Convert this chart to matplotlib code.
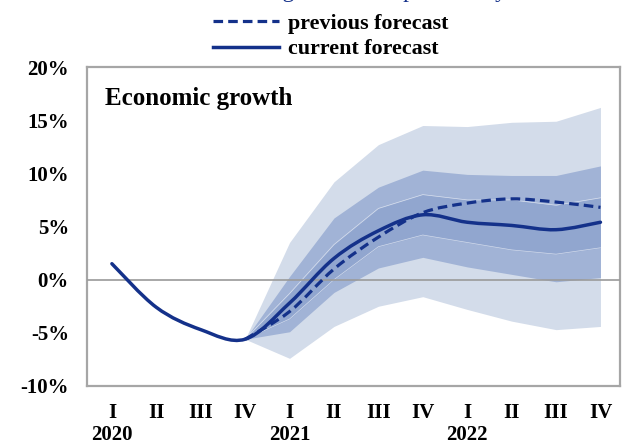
import numpy as np
import matplotlib
matplotlib.use("Agg")
import matplotlib.pyplot as plt
import matplotlib.transforms as mtransforms
from matplotlib.path import Path
from matplotlib.patches import PathPatch

# ---- data -------------------------------------------------------------
quarters = ["I", "II", "III", "IV", "I", "II", "III", "IV", "I", "II", "III", "IV"]
year_pos = [0, 4, 8]
year_labels = ["2020", "2021", "2022"]

current = [1.5, -2.6, -4.7, -5.6, -2.2, 2.0, 4.6, 6.1, 5.4, 5.1, 4.7, 5.4]
previous = [-5.6, -3.0, 1.0, 4.0, 6.3, 7.2, 7.6, 7.3, 6.8]  # from IV 2020 on
fan_start = 3

outer_hi = [-5.6, 3.5, 9.2, 12.7, 14.5, 14.4, 14.8, 14.9, 16.2]
mid_hi = [-5.6, 0.3, 5.8, 8.7, 10.3, 9.9, 9.8, 9.8, 10.7]
inner_hi = [-5.6, -1.3, 3.3, 6.7, 8.0, 7.5, 7.5, 7.0, 7.7]
inner_lo = [-5.6, -3.7, 0.0, 3.1, 4.2, 3.5, 2.8, 2.4, 3.0]
mid_lo = [-5.6, -4.9, -1.2, 1.1, 2.1, 1.2, 0.5, -0.2, 0.2]
outer_lo = [-5.6, -7.4, -4.4, -2.5, -1.6, -2.8, -3.9, -4.7, -4.4]

yticks = [-10, -5, 0, 5, 10, 15, 20]

# ---- style ------------------------------------------------------------
plt.rcParams["font.family"] = ["Liberation Serif", "DejaVu Serif"]
plt.rcParams["font.weight"] = "bold"

navy = "#14318a"
c_outer = "#d3dcea"
c_mid = "#a1b3d6"
c_inner = "#91a6cf"
frame = "#a6a6a6"


def smooth_path(x, y):
    """Cubic Bezier path through the points (Catmull-Rom style tangents)."""
    x = np.asarray(x, float)
    y = np.asarray(y, float)
    verts = [(x[0], y[0])]
    codes = [Path.MOVETO]
    n = len(x)
    for i in range(n - 1):
        p0 = np.array([x[max(i - 1, 0)], y[max(i - 1, 0)]])
        p1 = np.array([x[i], y[i]])
        p2 = np.array([x[i + 1], y[i + 1]])
        p3 = np.array([x[min(i + 2, n - 1)], y[min(i + 2, n - 1)]])
        c1 = p1 + (p2 - p0) / 6.0
        c2 = p2 - (p3 - p1) / 6.0
        verts += [tuple(c1), tuple(c2), tuple(p2)]
        codes += [Path.CURVE4] * 3
    return Path(verts, codes)


fig = plt.figure(figsize=(6.22, 4.45), dpi=100)
ax = fig.add_axes([0.1399, 0.1326, 0.8569, 0.7168])

xf = np.arange(fan_start, fan_start + len(outer_hi))

# fan bands
ax.fill_between(xf, outer_lo, outer_hi, color=c_outer, lw=0, zorder=1)
ax.fill_between(xf, mid_lo, mid_hi, color=c_mid, lw=0, zorder=2)
ax.fill_between(xf, inner_lo, inner_hi, color=c_inner, lw=0, zorder=3)
ax.plot(xf, inner_hi, color="white", lw=0.5, alpha=0.6, zorder=3.5)
ax.plot(xf, inner_lo, color="white", lw=0.5, alpha=0.6, zorder=3.5)

# zero line
ax.axhline(0, color="#9a9a9a", lw=1.2, zorder=4)

# forecasts
xc = np.arange(len(current))
ax.add_patch(PathPatch(smooth_path(xf, previous), fill=False, edgecolor=navy,
                       lw=2.3, linestyle=(0, (3, 1.6)), zorder=5))
ax.add_patch(PathPatch(smooth_path(xc, current), fill=False, edgecolor=navy,
                       lw=2.5, zorder=6, capstyle="round"))

# legend proxies
ax.plot([], [], color=navy, lw=2.3, linestyle=(0, (3, 1.6)), label="previous forecast")
ax.plot([], [], color=navy, lw=2.5, label="current forecast")
fig.legend(loc="upper left", bbox_to_anchor=(0.343, 0.969), frameon=False,
           fontsize=15.8, handlelength=3.0, handletextpad=0.4,
           labelspacing=0.22, borderaxespad=0, borderpad=0)

# axes
ax.set_xlim(-0.56, 11.44)
ax.set_ylim(-10, 20)
ax.set_yticks(yticks)
ax.set_yticklabels([f"{v}%" for v in yticks], fontsize=15, fontweight="bold")
ax.set_xticks(xc)
ax.set_xticklabels(quarters, fontsize=15, fontweight="bold")
ax.tick_params(length=0, pad=13, axis="y")
ax.tick_params(length=0, pad=12, axis="x")
for s in ax.spines.values():
    s.set_color(frame)
    s.set_linewidth(1.6)

# year labels under the first quarter of each year
year_tf = mtransforms.offset_copy(ax.get_xaxis_transform(), fig=fig, x=0, y=-54, units="dots")
for xp, lab in zip(year_pos, year_labels):
    ax.text(xp, 0, lab, transform=year_tf, fontsize=15, fontweight="bold",
            ha="center", va="baseline")

ax.text(0.034, 0.9, "Economic growth", transform=ax.transAxes, fontsize=18,
        fontweight="bold", va="center", ha="left")

# heading, mostly above the top edge
fig.text(507 / 622, 1.006, "Fan chart of economic growth with probability", color=navy,
         fontsize=17, fontweight="normal", ha="right", va="baseline")

fig.savefig("out.png", dpi=100)
